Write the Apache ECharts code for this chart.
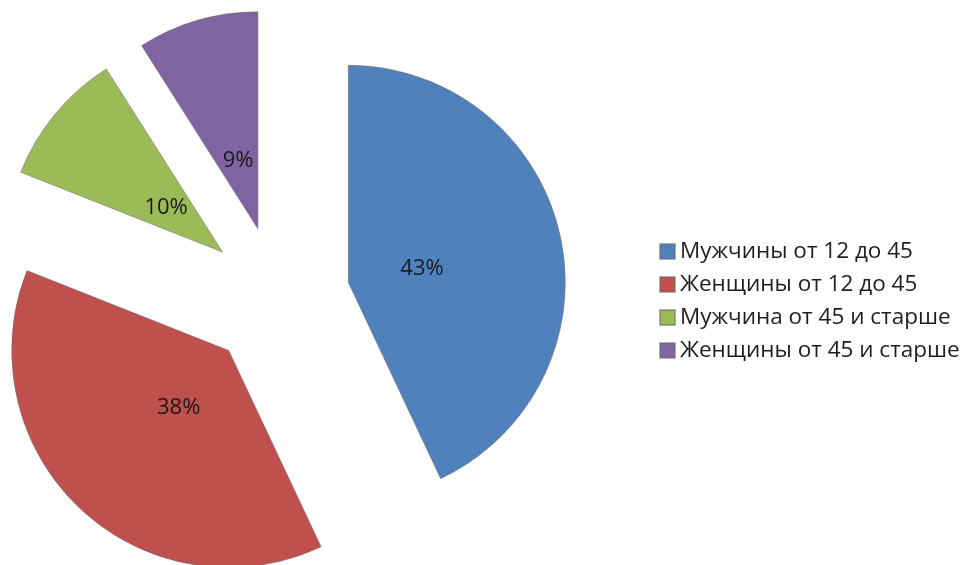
<!DOCTYPE html>
<html>
<head>
<meta charset="utf-8">
<script src="https://cdn.jsdelivr.net/npm/echarts@6/dist/echarts.min.js"></script>
<style>html,body{margin:0;padding:0;background:#fff}#c{width:966px;height:565px}</style>
</head>
<body>
<div id="c"></div>
<script>
const categories = ['Мужчины от 12 до 45', 'Женщины от 12 до 45', 'Мужчина от 45 и старше', 'Женщины от 45 и старше'];
const values = [43, 38, 10, 9];
const colors = ['#4F81BD', '#C0504D', '#9BBB59', '#8064A2'];

const chart = echarts.init(document.getElementById('c'));
const center = [278, 298];
const offset = 72;
const font = '"Open Sans", "Noto Sans", sans-serif';

chart.setOption({
  animation: false,
  legend: {
    orient: 'vertical',
    left: 654,
    top: 235,
    itemWidth: 15,
    itemHeight: 15,
    itemGap: 10,
    icon: 'rect',
    data: categories,
    textStyle: { fontFamily: font, fontSize: 22.5, color: '#1e1e1e', lineHeight: 22 }
  },
  series: [
    {
      type: 'pie',
      center: center,
      radius: 217,
      startAngle: 90,
      clockwise: true,
      selectedMode: 'multiple',
      selectedOffset: offset,
      label: { show: false },
      labelLine: { show: false },
      emphasis: { disabled: true },
      itemStyle: { borderColor: 'rgba(110,110,110,0.55)', borderWidth: 1 },
      data: categories.map((n, i) => ({ name: n, value: values[i], selected: true, itemStyle: { color: colors[i] } }))
    },
    {
      type: 'pie',
      center: [center[0] + 1, center[1] + 3],
      radius: 143,
      startAngle: 90,
      clockwise: true,
      silent: true,
      selectedMode: 'multiple',
      selectedOffset: offset,
      legendHoverLink: false,
      label: { show: true, position: 'inner', formatter: '{d}%', color: '#1a1a1a', fontFamily: font, fontSize: 22 },
      labelLine: { show: false },
      emphasis: { disabled: true },
      itemStyle: { color: 'rgba(0,0,0,0)' },
      data: categories.map((n, i) => ({ name: n, value: values[i], selected: true }))
    }
  ]
});
</script>
</body>
</html>
